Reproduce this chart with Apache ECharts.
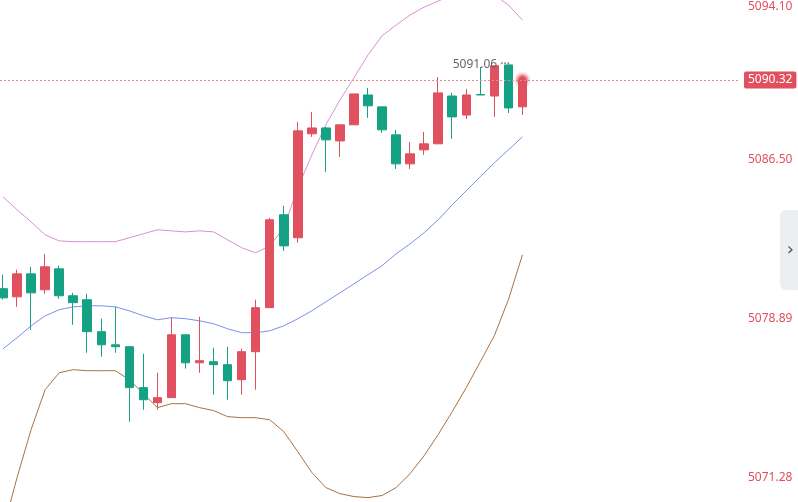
<!DOCTYPE html>
<html><head><meta charset="utf-8">
<script src="https://cdn.jsdelivr.net/npm/echarts@6/dist/echarts.min.js"></script>
<style>html,body{margin:0;padding:0;background:#fff}#c{width:798px;height:502px}</style>
</head><body><div id="c"></div>
<script>
// OHLC per candle: [open, close, low, high]
const candles = [
[5080.32,5079.88,5079.80,5080.99],[5079.93,5081.03,5079.45,5081.23],[5081.03,5080.12,5078.35,5081.37],
[5080.27,5081.37,5080.08,5081.99],[5081.27,5079.98,5079.84,5081.42],[5079.98,5079.65,5078.59,5080.12],
[5079.79,5078.26,5077.25,5080.08],[5078.26,5077.63,5077.06,5078.88],[5077.63,5077.54,5077.25,5079.45],
[5077.54,5075.58,5073.95,5077.54],[5075.58,5075.00,5074.52,5077.20],[5074.86,5075.10,5074.52,5076.29],
[5075.10,5078.11,5075.10,5078.93],[5078.11,5076.77,5076.49,5078.11],[5076.77,5076.87,5076.29,5078.98],
[5076.82,5076.68,5075.24,5077.49],[5076.68,5075.91,5075.00,5077.54],[5075.96,5077.30,5075.24,5077.44],
[5077.30,5079.41,5075.48,5079.79],[5079.41,5083.62,5079.41,5083.71],[5083.86,5082.37,5082.13,5084.29],
[5082.76,5087.88,5082.52,5088.31],[5087.74,5088.02,5087.59,5088.79],[5088.02,5087.45,5085.92,5088.07],
[5087.40,5088.17,5086.63,5088.17],[5088.17,5089.65,5088.17,5089.65],[5089.60,5089.08,5088.50,5089.94],
[5089.03,5087.93,5087.78,5089.03],[5087.69,5086.30,5086.06,5087.93],[5086.30,5086.78,5086.06,5087.35],
[5086.97,5087.26,5086.73,5087.83],[5087.26,5089.70,5087.26,5090.46],[5089.55,5088.55,5087.50,5089.70],
[5088.64,5089.60,5088.45,5089.89],[5089.62,5089.60,5089.60,5090.94],[5089.55,5091.00,5088.55,5091.00],
[5091.04,5088.98,5088.74,5091.06],[5089.03,5090.32,5088.64,5090.32]
];
const upper = [5084.72,5084.10,5083.52,5082.90,5082.61,5082.57,5082.57,5082.57,5082.57,5082.76,5082.95,5083.14,5083.09,5083.04,5083.09,5083.04,5082.66,5082.28,5082.04,5082.37,5083.24,5085.15,5086.73,5088.17,5089.36,5090.42,5091.52,5092.43,5092.95,5093.43,5093.81,5094.10,5094.39,5094.53,5094.53,5094.39,5093.91,5093.19];
const middle = [5077.44,5077.97,5078.54,5079.02,5079.31,5079.45,5079.50,5079.50,5079.45,5079.26,5079.02,5078.83,5078.93,5078.88,5078.78,5078.64,5078.40,5078.21,5078.21,5078.30,5078.54,5078.88,5079.26,5079.69,5080.12,5080.55,5080.99,5081.42,5081.99,5082.47,5083.00,5083.62,5084.34,5085.01,5085.68,5086.35,5086.97,5087.59];
const lower = [5068.78,5071.27,5073.57,5075.48,5076.29,5076.44,5076.39,5076.39,5076.39,5075.96,5075.29,5074.62,5074.81,5074.81,5074.62,5074.48,5074.19,5074.14,5074.14,5074.04,5073.47,5072.51,5071.51,5070.79,5070.50,5070.36,5070.31,5070.41,5070.79,5071.46,5072.32,5073.33,5074.43,5075.58,5076.82,5078.07,5079.79,5081.94];
const tickValues = [5071.28,5078.89,5086.50,5094.10];
const lastPrice = 5090.32;
const maxHigh = 5091.06;
const emptySlots = 15;

const cats = [];
for (let i = 0; i < candles.length + emptySlots; i++) cats.push(String(i));
const RED = '#e0505e', GREEN = '#14a184';
const chart = echarts.init(document.getElementById('c'));
chart.setOption({
  animation: false,
  grid: {left: -4, right: 58, top: 0, bottom: 0, containLabel: false, outerBoundsMode: 'none'},
  xAxis: {type: 'category', data: cats, boundaryGap: true, show: false},
  yAxis: {type: 'value', position: 'right', min: 5070.1, max: 5094.15, scale: true,
    splitLine: {show: false}, axisLine: {show: false}, axisTick: {show: false},
    axisLabel: {customValues: tickValues, inside: false, margin: 8, color: '#e0505e', fontSize: 12,
      fontFamily: 'Noto Sans', verticalAlignMaxLabel: 'top', formatter: v => v.toFixed(2)}},
  series: [
    {type: 'line', data: upper, symbol: 'none', lineStyle: {color: '#d98fd6', width: 1}, clip: true, z: 1},
    {type: 'line', data: middle, symbol: 'none', lineStyle: {color: '#7b8df0', width: 1}, clip: true, z: 1},
    {type: 'line', data: lower, symbol: 'none', lineStyle: {color: '#a8703f', width: 1}, clip: true, z: 1},
    {type: 'candlestick', data: candles, barWidth: 9, z: 3,
      itemStyle: {color: RED, color0: GREEN, borderColor: RED, borderColor0: GREEN, borderWidth: 1},
      markLine: {symbol: 'none', silent: true,
        lineStyle: {color: '#e58a92', type: [2, 2], width: 1},
        data: [{yAxis: lastPrice}],
        label: {position: 'end', distance: 4, formatter: lastPrice.toFixed(2), color: '#fff',
          backgroundColor: RED, padding: [3, 4, 2, 4], borderRadius: 2, fontSize: 12, fontFamily: 'Noto Sans'}},
      markPoint: {symbol: 'circle', symbolSize: 1, itemStyle: {color: 'transparent'},
        data: [{coord: ['36', maxHigh], value: maxHigh}],
        label: {show: true, position: 'left', distance: 0, offset: [2, 0], color: '#666', fontSize: 12,
          fontFamily: 'Noto Sans', formatter: p => p.value.toFixed(2) + ' ···'}}
    },
    {type: 'effectScatter', data: [[String(candles.length - 1), lastPrice]], symbolSize: 6,
      itemStyle: {color: RED}, rippleEffect: {scale: 3, brushType: 'fill'}, z: 4}
  ],
  graphic: [{type: 'rect', right: 0, top: 210, shape: {width: 18, height: 80, r: [6, 0, 0, 6]},
      style: {fill: '#eceef1'}},
    {type: 'text', right: 4, top: 241, style: {text: '›', fontSize: 18, fill: '#555', fontFamily: 'DejaVu Sans'}}]
});
</script></body></html>
